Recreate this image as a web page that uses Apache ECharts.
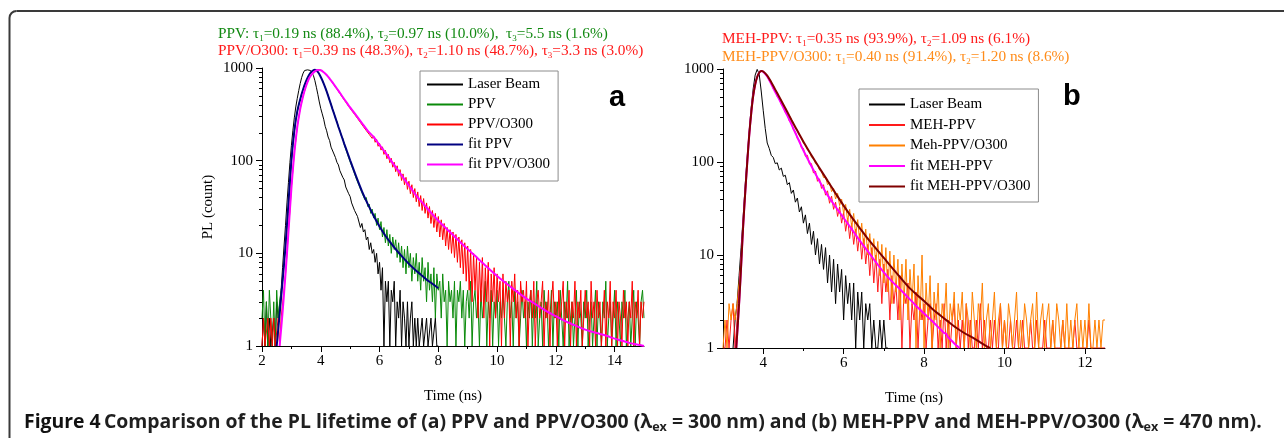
<!DOCTYPE html>
<html><head><meta charset="utf-8">
<script src="https://cdn.jsdelivr.net/npm/echarts@6/dist/echarts.min.js"></script>
<style>html,body{margin:0;padding:0;background:#fff}#c{width:1284px;height:438px}</style>
</head><body><div id="c"></div><script>
// ---------- DATA ----------
const DT = 0.05; // channel width (ns) of the raw decay traces
// Panel a raw traces
const laserA_t0 = 2.00;
const laserA = [
1,2,1,3,1,2,1,1,2,1,3,2,2,4,7,12,20,35,58,95,
145,210,290,380,470,570,680,790,880,940,970,955,965,940,900,830,730,620,520,430,
365,320,280,235,210,180,165,140,138,118,108,96,90,78,76,66,62,52,50,44,
41,35,36,29,30,25,24,19,21,17,18,14,15,11,13,10,11,8,10,6,
8,4,7,1,5,3,5,1,4,3,5,1,3,2,4,1,3,2,1,3,
1,2,3,1,2,1,2,1,1,2,1,1,2,1,1,2,1,1,2,1,
1];
const ppv_t0 = 2.00;
const ppv = [
2,4,1,3,1,4,2,1,3,1,4,2,3,4,5,8,11,18,27,50,
96,152,205,275,335,405,455,530,585,660,715,785,835,885,915,945,950,945,905,865,
795,745,675,625,555,510,445,410,355,328,285,265,228,214,184,174,148,141,120,115,
97,95,80,78,65,64,54,55,45,46,38,40,32,34,27,30,24,27,20,24,
18,22,15,19,13,18,12,16,10,15,11,14,9,13,8,12,7,11,6,12,
7,10,5,9,6,10,5,8,4,9,5,7,3,8,4,6,3,7,2,6,
4,5,2,6,3,4,1,5,3,4,2,5,1,4,3,5,2,4,1,3,
4,2,5,1,3,4,2,3,1,4,2,3,5,1,3,2,4,1,3,2,
4,1,3,2,4,2,1,3,5,2,3,1,4,2,3,1,2,4,2,3,
1,3,2,4,1,3,2,5,1,2,3,1,4,2,3,1,2,4,1,3,
2,3,1,4,2,1,3,2,5,1,2,3,1,2,4,1,3,2,1,3,
2,4,1,2,3,1,2,4,1,3,2,1,3,2,5,1,2,3,1,2,
4,1,3,2,1,3,2,4,1,2,3,1,2,4,1,3,2,1,3,4,
2];
const ppvO300_t0 = 2.00;
const ppvO300 = [
1,2,1,1,2,1,2,1,2,1,1,2,1,2,2,4,6,10,18,29,
52,78,124,165,236,290,368,425,508,565,648,700,778,810,868,885,928,930,958,945,
950,918,905,862,848,798,778,728,708,655,640,590,580,530,522,475,470,428,425,385,
385,348,352,316,320,286,292,258,265,233,242,211,220,192,201,174,185,158,170,143,
154,130,141,117,129,105,117,95,106,85,96,76,88,68,80,61,72,55,66,49,
60,44,55,40,50,36,46,32,42,29,39,27,35,24,32,21,29,19,27,17,
25,15,23,14,21,12,19,11,18,10,17,9,16,8,15,7,14,6,13,5,
12,4,11,3,10,4,9,2,8,3,9,2,7,3,8,1,6,3,7,2,
6,3,5,1,6,2,5,3,4,1,5,3,6,2,4,1,5,3,4,2,
5,1,3,4,2,5,1,3,4,2,3,5,1,3,2,4,1,3,5,2,
3,1,4,2,3,5,1,3,2,4,1,3,2,5,1,3,2,4,1,2,
4,2,3,1,5,2,3,1,4,2,3,1,2,4,1,3,2,5,1,3,
2,4,1,3,2,1,4,2,3,1,3,2,5,1,3,2,4,1,3,2,
3];
// Panel a fits
const fitPPV_t = [2.5,2.6,2.7,2.78,2.9,3.0,3.1,3.2,3.3,3.4,3.5,3.6,3.7,3.8,3.9,4.0,4.1,4.2,4.3,4.4,4.5,4.6,4.7,4.8,4.9,5.0,5.2,5.4,5.6,5.8,6.0,6.2,6.4,6.6,6.8,7.0,7.2,7.4,7.6,7.8,8.0];
const fitPPV_v = [1,2.2,5,10,35,100,210,340,460,590,720,840,920,955,910,800,680,560,450,360,290,232,188,152,124,101,68,47,34,25.5,19.5,15.5,12.7,10.6,9.0,7.7,6.7,5.9,5.2,4.7,4.2];
const fitPPVO_t = [2.6,2.7,2.8,2.85,2.9,3.0,3.1,3.2,3.3,3.4,3.5,3.6,3.7,3.8,3.9,4.0,4.1,4.2,4.3,4.4,4.5,4.6,4.7,4.8,4.9,5.0,5.2,5.4,5.6,5.8,6.0,6.2,6.4,6.6,6.8,7.0,7.25,7.5,7.75,8.0,8.25,8.5,8.75,9.0,9.25,9.5,9.75,10.0,10.25,10.5,10.75,11.0,11.25,11.5,11.75,12.0,12.25,12.5,12.75,13.0,13.25,13.5,13.75,14.0,14.25,14.5,14.75,15.0];
const fitPPVO_v = [1,2.3,6,10,17,50,120,230,360,500,640,770,860,920,950,945,900,840,770,700,630,570,512,460,415,375,310,255,210,180,148,122,99,81,66,54,42,34,27.5,22.5,18.8,15.8,13.2,11.1,9.4,7.9,6.7,5.7,4.9,4.25,3.7,3.25,2.9,2.58,2.3,2.1,1.9,1.75,1.62,1.5,1.42,1.35,1.28,1.2,1.14,1.08,1.04,1.0];
// Panel b raw traces
const laserB_t0 = 3.25;
const laserB = [
1,2,3,6,12,25,55,110,210,380,
610,860,990,880,580,360,230,160,140,118,
112,96,98,82,86,70,72,57,60,46,
50,37,41,29,33,22,27,17,22,13,
18,10,15,8,13,7,12,5,10,4,
9,3,8,4,7,2,6,3,5,2,
5,1,4,2,4,1,3,2,3,1,
2,1,1,2,1,2,1,1];
const meh_t0 = 3.00;
const meh = [
1,1,2,1,2,3,1,2,4,8,21,44,97,188,335,505,690,815,920,945,
940,875,840,750,700,615,575,505,480,415,395,340,325,275,265,222,212,178,172,142,
140,115,118,95,96,76,80,62,66,52,57,44,49,36,43,31,37,26,33,22,
29,18,25,15,22,13,19,11,17,9,15,8,13,6,12,5,10,4,9,3,
8,4,7,2,6,3,5,2,6,1,4,3,5,1,3,2,4,1,3,2,
3,1,2,3,1,2,3,1,2,1,3,1,2,1,2,3,1,2,1,2,
1,3,1,2,1,1,2,1,3,1,2,1,1,2,1,2,1,1,3,1,
2,1,1,2,1,1,2,1,1,2,1,1,1,2,1,1,2,1,1,1,
2,1,1,1,2,1,1,1,1,2,1,1,1,1,1,2,1,1,1,1,
1,1,2,1,1,1,1,1,1,1,1];
const mehO300_t0 = 3.00;
const mehO300 = [
1,2,1,3,2,3,2,3,5,9,19,47,92,195,325,515,675,825,905,955,
930,900,845,785,725,665,595,555,495,460,410,385,340,318,282,262,232,218,195,182,
160,152,135,130,113,110,96,94,82,80,68,69,57,60,48,52,40,46,34,40,
28,35,23,31,20,28,16,24,14,22,12,19,10,17,9,15,8,14,6,13,
5,12,4,11,3,10,4,9,2,8,3,9,2,7,3,8,1,6,2,10,
1,5,2,6,1,4,2,5,1,3,2,5,1,3,2,4,1,3,2,4,
1,3,2,1,4,2,1,3,2,5,1,2,3,1,2,4,1,2,3,1,
2,1,3,2,1,2,4,1,2,1,3,2,1,2,3,1,4,1,2,3,
1,2,3,1,2,1,3,2,1,2,1,3,1,2,1,2,3,1,2,1,
2,1,3,1,1,2,1,2,1,2,2];
// Panel b fits
const fitMEH_t = [3.33,3.4,3.45,3.5,3.55,3.6,3.65,3.7,3.75,3.8,3.85,3.9,3.95,4.0,4.1,4.2,4.3,4.4,4.5,4.6,4.7,4.8,4.9,5.0,5.2,5.4,5.6,5.8,6.0,6.2,6.4,6.6,6.8,7.0,7.2,7.4,7.6,7.8,8.0,8.2,8.4,8.5,8.55,8.6,8.7,8.8,8.88];
const fitMEH_v = [1,3,7.5,20,45,95,190,330,510,680,820,910,950,935,830,690,565,470,385,315,255,205,165,133,90,62,44,33,25,19,14.3,11,8.4,6.5,5.2,4.3,3.5,2.85,2.35,1.95,1.6,1.45,1.42,1.3,1.18,1.07,1.0];
const fitMEHO_t = [3.33,3.4,3.45,3.5,3.55,3.6,3.65,3.7,3.75,3.8,3.85,3.9,3.95,4.0,4.1,4.2,4.3,4.4,4.5,4.6,4.7,4.8,4.9,5.0,5.2,5.4,5.6,5.8,6.0,6.2,6.4,6.6,6.8,7.0,7.2,7.4,7.6,7.8,8.0,8.2,8.4,8.6,8.8,9.0,9.2,9.4,9.5,9.6,9.65];
const fitMEHO_v = [1,3,7.5,20,45,95,190,330,510,680,820,910,950,940,850,720,600,500,415,345,285,237,198,165,118,86,63,46,34,25.5,19.5,15,11.8,9.3,7.3,5.8,4.6,3.8,3.2,2.65,2.25,1.92,1.65,1.45,1.3,1.15,1.08,1.02,1.0];
// Tick values
const xTicksA = [2,4,6,8,10,12,14];
const xMinorA = [3,5,7,9,11,13];
const xTicksB = [4,6,8,10,12];
const xMinorB = [5,7,9,11];
// Legend labels
const legendA = ['Laser Beam','PPV','PPV/O300','fit PPV','fit PPV/O300'];
const legendB = ['Laser Beam','MEH-PPV','Meh-PPV/O300','fit MEH-PPV','fit MEH-PPV/O300'];

// ---------- CHART ----------
const SERIF = '"Liberation Serif","Times New Roman",serif';
const SANS = '"Open Sans","Noto Sans",sans-serif';
const raw = (t0, vals) => vals.map((v,i)=>[+(t0+i*DT).toFixed(2), v]);
const pairs = (ts, vs) => ts.map((t,i)=>[t, vs[i]]);
const chart = echarts.init(document.getElementById('c'), null, {renderer:'canvas'});

const axisLine = {show:true, lineStyle:{color:'#000', width:1}};
const lbl = {fontFamily:SERIF, fontSize:15, color:'#000'};
function xMain(grid, min, max, ticks){
  return {gridIndex:grid, type:'value', min, max, position:'bottom',
    axisLine, splitLine:{show:false},
    axisTick:{show:true, customValues:ticks, length:6, lineStyle:{color:'#000'}},
    axisLabel:Object.assign({customValues:ticks, margin:8}, lbl),
    name:'Time (ns)', nameLocation:'middle', nameGap:43,
    nameTextStyle:{fontFamily:SERIF, fontSize:15, color:'#000'}};
}
function xMinor(grid, min, max, ticks){
  return {gridIndex:grid, type:'value', min, max, position:'bottom',
    axisLine:{show:false}, splitLine:{show:false}, axisLabel:{show:false},
    axisTick:{show:true, customValues:ticks, length:3, lineStyle:{color:'#000'}}};
}
function yMain(grid, name){
  return {gridIndex:grid, type:'log', logBase:10, min:1, max:1000, position:'left',
    axisLine, splitLine:{show:false}, minorSplitLine:{show:false},
    axisTick:{show:true, length:6, lineStyle:{color:'#000'}},
    minorTick:{show:true, splitNumber:9, length:3, lineStyle:{color:'#000'}},
    axisLabel:Object.assign({margin:9, formatter:v=>String(v)}, lbl),
    name:name, nameLocation:'middle', nameGap:46,
    nameTextStyle:{fontFamily:SERIF, fontSize:15, color:'#000'}};
}
function line(name, data, xi, yi, color, width, z, smooth){
  return {type:'line', name, data, xAxisIndex:xi, yAxisIndex:yi, symbol:'none', showSymbol:false,
    smooth: smooth||false, z:z||2, lineStyle:{color, width}, itemStyle:{color}, silent:true};
}
const legendCommon = {orient:'vertical', itemWidth:36, itemHeight:14, selectedMode:false,
  borderColor:'#8c8c8c', borderWidth:1, backgroundColor:'#fff',
  itemStyle:{opacity:0},
  textStyle:{fontFamily:SERIF, fontSize:15, color:'#000'}};

function tauText(x, y, txt, color){
  return {type:'text', left:x, top:y, z:50,
    style:{text:txt, fill:color, font:'15.3px '+SERIF,
      rich:{n:{fontFamily:SERIF, fontSize:15.3, fill:color, lineHeight:19},
            s:{fontFamily:SERIF, fontSize:9, fill:color, verticalAlign:'bottom', lineHeight:7}}}};
}
const frame = {stroke:'#3a3a3a', lineWidth:2, fill:null};

const option = {
  animation:false,
  backgroundColor:'#fff',
  grid:[{left:262, top:68, width:382, height:278, outerBoundsMode:'none'},
        {left:723, top:69, width:382, height:279, outerBoundsMode:'none'}],
  xAxis:[xMain(0,2,15,xTicksA), xMinor(0,2,15,xMinorA), xMain(1,3,12.5,xTicksB), xMinor(1,3,12.5,xMinorB)],
  yAxis:[yMain(0,'PL (count)'), yMain(1,'')],
  legend:[
    Object.assign({left:420, top:71, data:legendA, itemGap:5, padding:[6,8,9,6]}, legendCommon),
    Object.assign({left:859, top:89, data:legendB, itemGap:5.5, padding:[8,8,8,9]}, legendCommon)
  ],
  series:[
    line('Laser Beam', raw(laserA_t0, laserA), 0, 0, '#000000', 1, 2),
    line('PPV', raw(ppv_t0, ppv), 0, 0, '#0a8a0a', 1, 3),
    line('PPV/O300', raw(ppvO300_t0, ppvO300), 0, 0, '#ff0000', 1, 4),
    line('fit PPV', pairs(fitPPV_t, fitPPV_v), 0, 0, '#000080', 2, 6, 0.3),
    line('fit PPV/O300', pairs(fitPPVO_t, fitPPVO_v), 0, 0, '#ff00ff', 2, 6, 0.3),
    line('Laser Beam', raw(laserB_t0, laserB), 2, 1, '#000000', 1, 2),
    line('MEH-PPV', raw(meh_t0, meh), 2, 1, '#ff1a1a', 1, 3),
    line('Meh-PPV/O300', raw(mehO300_t0, mehO300), 2, 1, '#ff8000', 1, 4),
    line('fit MEH-PPV', pairs(fitMEH_t, fitMEH_v), 2, 1, '#ff00ff', 2, 6, 0.3),
    line('fit MEH-PPV/O300', pairs(fitMEHO_t, fitMEHO_v), 2, 1, '#800000', 2, 7, 0.3)
  ],
  graphic:[
    {type:'line', shape:{x1:9.5, y1:438, x2:9.5, y2:18}, style:frame, z:1},
    {type:'arc', shape:{cx:16.5, cy:18, r:7, startAngle:Math.PI, endAngle:1.5*Math.PI}, style:frame, z:1},
    {type:'line', shape:{x1:16.5, y1:11, x2:1284, y2:11}, style:frame, z:1},
    tauText(218, 26, '{n|PPV: τ}{s|1}{n|=0.19 ns (88.4%), τ}{s|2}{n|=0.97 ns (10.0%),  τ}{s|3}{n|=5.5 ns (1.6%)}', '#138a13'),
    tauText(218, 43, '{n|PPV/O300: τ}{s|1}{n|=0.39 ns (48.3%), τ}{s|2}{n|=1.10 ns (48.7%), τ}{s|3}{n|=3.3 ns (3.0%)}', '#ff1a1a'),
    tauText(722, 31, '{n|MEH-PPV: τ}{s|1}{n|=0.35 ns (93.9%), τ}{s|2}{n|=1.09 ns (6.1%)}', '#ff1a1a'),
    tauText(722, 49, '{n|MEH-PPV/O300: τ}{s|1}{n|=0.40 ns (91.4%), τ}{s|2}{n|=1.20 ns (8.6%)}', '#ff8c1a'),
    {type:'text', left:609, top:83, z:50, style:{text:'a', font:'bold 29px "Liberation Sans",Arial,sans-serif', fill:'#000'}},
    {type:'text', left:1063, top:82, z:50, style:{text:'b', font:'bold 29px "Liberation Sans",Arial,sans-serif', fill:'#000'}},
    {type:'text', left:24, top:412, z:50, scaleX:0.97,
      style:{text:'{b|Figure 4} {n|Comparison of the PL lifetime of (a) PPV and PPV/O300 (λ}{s|ex}{n| = 300 nm) and (b) MEH-PPV and MEH-PPV/O300 (λ}{s|ex}{n| = 470 nm).}',
        rich:{b:{fontFamily:SANS, fontWeight:'bold', fontSize:20, fill:'#111', lineHeight:24},
              n:{fontFamily:SANS, fontWeight:'bold', fontSize:20, fill:'#1f1f1f', lineHeight:24},
              s:{fontFamily:SANS, fontWeight:'bold', fontSize:13, fill:'#1f1f1f', verticalAlign:'bottom', lineHeight:13}}}}
  ]
};
chart.setOption(option);
</script></body></html>
